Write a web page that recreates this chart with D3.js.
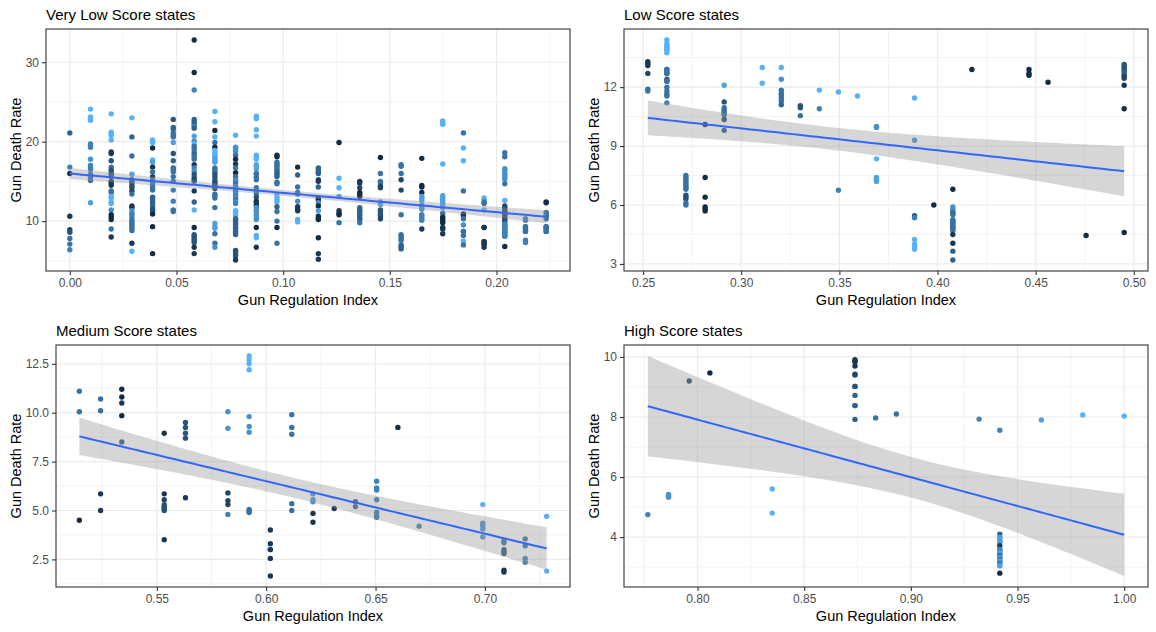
<!DOCTYPE html>
<html><head><meta charset="utf-8">
<script src="https://cdn.jsdelivr.net/npm/d3@7"></script>
<style>body{margin:0;background:#fff} svg{display:block} text{font-family:"Liberation Sans",Arial,sans-serif}</style>
</head><body><svg id="c" width="1156" height="632"></svg>
<script>
// ---- DATA: [regulation index, [[gun death rate, colour shade 0(dark)..9(light)], ...]] ----
// (several years per state overlap, so some entries sit on top of each other)
const veryLowCols = [
 [0.0000,[[21.1,4],[16.8,6],[16.0,0],[10.6,1],[8.9,2],[8.6,3],[7.8,5],[7.1,5],[6.4,6]]],
 [0.0097,[[24.1,9],[23.1,9],[22.9,9],[22.7,9],[19.7,6],[19.6,6],[19.3,6],[17.8,7],[17.0,6],[16.7,6],[16.5,6],[15.9,5],[15.5,5],[15.1,5],[12.3,8]]],
 [0.0194,[[23.5,9],[21.2,9],[21.0,9],[20.8,9],[20.2,9],[18.7,1],[18.5,1],[17.6,3],[16.8,5],[16.4,3],[16.1,3],[15.9,3],[15.6,3],[15.0,1],[14.8,1],[14.5,1],[13.8,5],[13.6,5],[13.1,9],[12.9,9],[12.4,9],[12.2,9],[11.4,7],[10.8,0],[10.5,0],[10.2,0],[9.0,5],[8.0,1]]],
 [0.0291,[[23.0,9],[20.6,4],[18.2,5],[15.9,8],[15.2,3],[15.0,3],[14.7,3],[14.4,3],[14.2,3],[13.8,2],[13.4,5],[11.9,1],[11.7,1],[11.3,7],[11.0,7],[10.8,6],[10.5,6],[10.1,5],[9.8,5],[9.6,5],[9.3,5],[9.1,5],[8.8,5],[7.2,1],[6.2,9]]],
 [0.0388,[[20.2,9],[19.9,9],[19.2,0],[17.7,9],[17.4,8],[16.8,1],[16.2,5],[15.6,2],[15.1,5],[14.9,5],[14.6,5],[14.2,5],[13.9,5],[13.0,4],[12.8,4],[12.5,4],[12.2,4],[11.8,4],[11.5,3],[11.3,3],[10.9,0],[9.3,0],[5.9,0]]],
 [0.0485,[[22.8,3],[21.8,4],[21.6,4],[21.1,5],[20.8,5],[20.6,5],[19.9,8],[18.5,3],[17.6,4],[16.7,4],[16.5,5],[16.2,5],[15.6,5],[15.0,5],[13.9,6],[12.5,6],[11.4,5],[11.2,5]]],
 [0.0583,[[32.8,0],[28.7,0],[26.5,6],[22.8,4],[22.5,4],[22.2,4],[21.9,6],[21.7,4],[20.7,8],[20.1,7],[19.7,9],[19.4,5],[19.1,5],[18.7,5],[18.4,4],[18.1,5],[17.8,5],[17.1,1],[16.7,6],[16.3,7],[15.9,3],[15.5,3],[15.2,2],[15.0,3],[13.8,1],[12.4,4],[11.4,9],[9.2,0],[8.3,3],[8.1,3],[7.8,3],[7.6,3],[7.3,3],[6.7,1],[5.9,1]]],
 [0.0680,[[23.8,9],[22.5,9],[21.4,0],[20.6,9],[19.9,5],[19.3,0],[18.9,9],[18.6,9],[18.4,9],[18.1,9],[17.9,8],[17.6,8],[17.4,8],[16.7,5],[16.5,5],[16.2,5],[15.9,3],[15.5,3],[15.1,3],[14.9,3],[14.6,2],[14.4,2],[14.1,2],[13.4,5],[13.2,5],[12.9,5],[11.7,5],[9.7,8],[9.3,8],[9.1,8],[8.4,5],[7.2,5],[6.7,7]]],
 [0.0777,[[20.8,9],[19.3,7],[19.1,7],[18.8,7],[18.3,5],[17.8,0],[17.2,1],[16.7,5],[16.1,0],[15.6,5],[15.2,6],[15.0,7],[14.7,5],[14.4,7],[14.2,6],[13.9,7],[13.7,5],[13.4,7],[13.2,6],[12.9,7],[12.7,5],[12.4,7],[12.2,6],[11.3,9],[11.1,9],[10.8,9],[10.3,4],[10.1,4],[9.8,4],[9.6,4],[9.3,4],[9.1,4],[8.8,4],[8.6,4],[8.3,4],[6.3,3],[6.1,3],[5.8,3],[5.6,3],[5.1,1]]],
 [0.0874,[[23.2,9],[22.9,9],[21.5,9],[20.7,9],[18.3,9],[18.1,9],[17.8,9],[17.1,8],[16.9,8],[16.6,8],[16.0,5],[15.9,5],[15.5,5],[15.2,5],[14.2,5],[13.9,5],[13.7,5],[13.4,5],[13.0,3],[12.5,1],[12.3,1],[12.0,1],[11.7,7],[11.4,7],[11.2,7],[10.9,7],[10.7,7],[10.4,7],[10.2,7],[9.2,0],[8.2,9],[7.9,9],[6.7,1]]],
 [0.0971,[[18.3,0],[18.1,0],[17.4,5],[17.1,5],[16.9,5],[16.6,5],[16.4,5],[16.1,4],[15.9,4],[15.6,4],[14.9,5],[14.7,5],[13.4,9],[13.0,9],[12.7,9],[12.4,9],[11.8,4],[11.2,5],[10.0,5],[9.2,0],[7.2,5]]],
 [0.1068,[[16.8,0],[15.8,4],[14.3,5],[13.6,5],[13.4,5],[12.5,7],[11.8,1],[11.5,1],[11.3,1],[10.2,9],[9.9,9]]],
 [0.1165,[[16.7,4],[16.5,4],[16.2,4],[16.0,4],[15.2,2],[15.0,1],[14.3,4],[12.9,0],[12.7,0],[12.3,7],[11.9,0],[11.3,8],[10.6,0],[10.3,0],[10.2,0],[7.9,0],[5.9,1],[5.2,1]]],
 [0.1262,[[19.9,0],[15.4,9],[14.2,9],[13.1,8],[11.3,1],[11.0,1],[10.8,0],[9.8,5]]],
 [0.1359,[[15.0,1],[14.8,1],[14.2,2],[13.6,0],[13.4,0],[13.1,0],[11.7,4],[11.4,4],[11.2,4],[10.9,4],[10.7,4],[10.4,4],[10.2,4],[9.8,5]]],
 [0.1456,[[18.0,0],[16.0,5],[15.0,5],[14.8,5],[14.4,2],[14.2,2],[12.4,8],[12.1,8],[11.4,3],[11.2,3],[10.9,3],[10.7,3],[10.3,2]]],
 [0.1553,[[17.1,5],[16.9,5],[16.0,5],[15.2,2],[13.9,2],[10.8,5],[8.3,5],[8.1,5],[7.8,5],[7.6,5],[7.0,4],[6.7,4],[6.5,4]]],
 [0.1650,[[17.9,0],[14.5,0],[14.3,0],[13.6,0],[13.1,8],[12.9,8],[12.6,8],[12.0,7],[11.8,7],[11.5,7],[10.8,6],[10.6,6],[10.3,6],[10.1,6],[9.0,1]]],
 [0.1748,[[22.6,9],[22.3,9],[22.2,9],[17.2,9],[13.2,8],[12.9,8],[12.7,8],[12.4,8],[12.2,8],[11.9,8],[11.7,8],[11.0,5],[10.5,0],[10.3,0],[10.0,0],[9.8,0],[9.2,1],[9.0,1],[8.4,1]]],
 [0.1845,[[21.1,5],[19.2,9],[17.6,9],[13.8,5],[10.9,1],[10.7,1],[10.3,5],[9.5,7],[8.7,5],[8.7,5],[8.2,5],[7.5,9],[7.0,5]]],
 [0.1942,[[12.9,9],[12.7,9],[12.4,5],[12.2,5],[11.4,9],[9.2,1],[9.2,1],[7.4,1],[7.4,1],[7.1,1],[7.1,1],[6.7,1]]],
 [0.2039,[[18.6,5],[18.1,5],[16.6,7],[16.4,7],[16.0,7],[15.8,7],[15.5,7],[15.3,7],[14.7,5],[12.6,9],[11.9,2],[11.7,2],[11.4,2],[11.2,2],[10.9,2],[10.7,2],[10.4,2],[10.2,2],[9.9,3],[9.6,6],[9.6,6],[9.3,6],[9.3,6],[9.1,6],[9.1,6],[8.8,6],[8.8,6],[8.6,6],[8.6,6],[8.3,6],[8.3,6],[8.1,6],[8.1,6],[6.8,0]]],
 [0.2136,[[10.3,6],[10.1,6],[9.3,5],[9.3,5],[9.0,5],[9.0,5],[8.7,5],[8.7,5],[7.6,6],[7.3,6]]],
 [0.2233,[[12.4,0],[12.3,0],[11.1,5],[10.8,5],[10.6,5],[10.3,5],[9.3,5],[9.3,5],[9.0,5],[9.0,5],[8.7,5],[8.7,5]]]
];
const lowCols = [
 [0.2524,[[13.3,1],[13.2,1],[13.1,1],[12.7,2],[11.9,5],[11.8,5]]],
 [0.2621,[[14.4,9],[14.2,9],[14.1,9],[14.0,9],[14.0,9],[13.9,9],[13.9,9],[13.75,9],[12.9,5],[12.9,5],[12.8,5],[12.7,5],[12.7,5],[12.4,3],[12.3,5],[12.3,5],[12.0,5],[11.8,5],[11.65,5],[11.55,5],[11.2,6]]],
 [0.2718,[[7.5,5],[7.4,5],[7.3,5],[7.2,5],[7.1,5],[7.0,5],[6.9,5],[6.8,5],[6.5,3],[6.4,3],[6.3,3],[6.1,5],[6.0,5]]],
 [0.2816,[[10.1,0],[7.4,0],[6.4,0],[5.9,0],[5.8,0],[5.7,0]]],
 [0.2913,[[12.1,8],[11.25,3],[10.95,5],[10.85,5],[10.75,5],[10.7,5],[10.6,5],[10.35,2],[9.8,3]]],
 [0.3107,[[13.0,9],[12.2,9]]],
 [0.3204,[[13.0,9],[12.4,7],[11.85,5],[11.7,5],[11.6,5],[11.45,5],[11.3,5],[11.1,4]]],
 [0.3301,[[11.05,3],[10.95,3],[10.55,5]]],
 [0.3398,[[11.85,9],[10.9,6]]],
 [0.3495,[[11.75,9],[6.75,6]]],
 [0.3592,[[11.55,9]]],
 [0.3689,[[10.0,7],[9.95,7],[8.35,9],[7.4,8],[7.3,8],[7.2,8]]],
 [0.3883,[[11.45,9],[9.3,7],[5.45,3],[5.35,6],[4.25,9],[4.0,9],[3.9,9],[3.75,9]]],
 [0.3981,[[6.0,0]]],
 [0.4078,[[6.8,0],[5.9,7],[5.8,7],[5.65,5],[5.6,5],[5.55,5],[5.5,5],[5.25,5],[5.2,5],[5.15,5],[5.1,5],[5.0,5],[4.95,5],[4.9,5],[4.85,5],[4.8,5],[4.7,5],[4.5,1],[4.05,1],[3.65,4],[3.2,4]]],
 [0.4175,[[12.9,0]]],
 [0.4466,[[12.9,0],[12.7,0],[12.6,0]]],
 [0.4563,[[12.25,0]]],
 [0.4757,[[4.45,0]]],
 [0.4951,[[13.15,3],[13.05,3],[12.95,3],[12.85,3],[12.75,4],[12.65,4],[12.55,2],[12.45,2],[12.1,1],[10.9,0],[4.6,0]]]
];
const mediumCols = [
 [0.5146,[[11.1,5],[10.05,5],[4.5,0]]],
 [0.5243,[[10.7,5],[10.1,5],[5.85,1],[5.0,1]]],
 [0.5340,[[11.2,0],[10.8,0],[10.5,1],[9.85,0],[8.5,3]]],
 [0.5534,[[8.95,1],[5.85,1],[5.55,2],[5.3,3],[5.2,3],[5.1,3],[5.1,3],[5.0,3],[3.5,1]]],
 [0.5631,[[9.5,3],[9.25,3],[8.95,3],[8.7,3],[5.65,1]]],
 [0.5825,[[10.05,7],[9.2,7],[5.9,2],[5.5,2],[5.3,2],[4.8,6]]],
 [0.5922,[[12.9,9],[12.7,9],[12.5,9],[12.2,9],[9.8,7],[9.3,7],[9.0,7],[5.05,5],[4.95,5],[4.9,5]]],
 [0.6019,[[4.0,1],[3.3,1],[3.0,1],[3.0,1],[2.55,1],[1.65,1]]],
 [0.6117,[[9.9,5],[9.25,5],[8.9,5],[5.35,5],[5.0,5]]],
 [0.6214,[[5.85,7],[5.55,7],[5.45,7],[4.85,1],[4.4,1]]],
 [0.6311,[[5.1,1]]],
 [0.6408,[[5.45,4],[5.2,4]]],
 [0.6505,[[6.5,6],[6.15,6],[6.05,6],[5.55,5],[4.9,5],[4.75,5],[4.65,5]]],
 [0.6602,[[9.25,0]]],
 [0.6699,[[4.2,6]]],
 [0.6990,[[5.3,9],[4.35,7],[4.25,7],[4.05,7],[3.65,7]]],
 [0.7087,[[3.45,5],[3.35,5],[3.0,3],[2.9,3],[2.8,3],[1.95,1],[1.85,1]]],
 [0.7184,[[3.55,5],[3.2,5],[2.55,6],[2.35,6]]],
 [0.7282,[[4.7,9],[1.9,9]]]
];
const highCols = [
 [0.7767,[[4.75,6]]],
 [0.7864,[[5.42,7],[5.38,7],[5.33,7]]],
 [0.7961,[[9.2,2]]],
 [0.8058,[[9.47,0]]],
 [0.8350,[[5.6,9],[4.8,9]]],
 [0.8738,[[9.91,1],[9.85,1],[9.85,1],[9.7,1],[9.43,2],[9.4,2],[9.02,3],[9.02,3],[8.72,4],[8.38,4],[8.38,4],[7.92,4]]],
 [0.8835,[[7.97,5]]],
 [0.8932,[[8.1,5]]],
 [0.9320,[[7.93,6]]],
 [0.9417,[[7.56,6],[4.1,4],[3.99,8],[3.99,8],[3.91,8],[3.84,8],[3.84,8],[3.71,1],[3.59,6],[3.59,6],[3.53,7],[3.46,8],[3.46,8],[3.39,5],[3.32,7],[3.32,7],[3.25,6],[3.19,8],[3.19,8],[3.12,5],[3.05,8],[3.05,8],[2.8,0]]],
 [0.9612,[[7.9,8]]],
 [0.9806,[[8.07,9]]],
 [1.0000,[[8.03,9]]]
];
const panelTitles = ["Very Low Score states","Low Score states","Medium Score states","High Score states"];
const xTickVals = [[0,0.05,0.10,0.15,0.20],[0.25,0.30,0.35,0.40,0.45,0.50],[0.55,0.60,0.65,0.70],[0.80,0.85,0.90,0.95,1.00]];
const xMinorVals = [[0.025,0.075,0.125,0.175,0.225],[0.275,0.325,0.375,0.425,0.475],[0.525,0.575,0.625,0.675,0.725],[0.775,0.825,0.875,0.925,0.975]];
const yTickVals = [[10,20,30],[3,6,9,12],[2.5,5.0,7.5,10.0,12.5],[4,6,8,10]];
const yMinorVals = [[5,15,25],[4.5,7.5,10.5,13.5],[1.25,3.75,6.25,8.75,11.25],[3,5,7,9]];
const yTickFormats = ["d","d",".1f","d"];
const xLabel = "Gun Regulation Index", yLabel = "Gun Death Rate";

// ---- LAYOUT ----
const boxes = [[46,29,570,271],[624,29,1148,271],[56,345,570,587],[624,345,1148,587]];
const cellLeft = [0,578,0,578];

const svg = d3.select("#c");
const colour = d3.scaleLinear().domain([0,9]).range(["#132B43","#56B1F7"]).interpolate(d3.interpolateLab);
const FONT = '"Liberation Sans", Arial, sans-serif';

function tq(df){ // 97.5% quantile of Student t (Cornish-Fisher)
  const z=1.959964;
  const g1=(z**3+z)/4, g2=(5*z**5+16*z**3+3*z)/96, g3=(3*z**7+19*z**5+17*z**3-15*z)/384,
        g4=(79*z**9+776*z**7+1482*z**5-1920*z**3-945*z)/92160;
  return z+g1/df+g2/df**2+g3/df**3+g4/df**4;
}

[veryLowCols,lowCols,mediumCols,highCols].forEach((cols,i)=>{
  const pts = cols.flatMap(([x,arr])=>arr.map(([y,s])=>({x,y,s})));
  const [L,T,R,B] = boxes[i];
  const xe = d3.extent(pts,d=>d.x);
  // linear model fit with 95% CI
  const n=pts.length, mx=d3.mean(pts,d=>d.x), my=d3.mean(pts,d=>d.y);
  const sxx=d3.sum(pts,d=>(d.x-mx)**2), sxy=d3.sum(pts,d=>(d.x-mx)*(d.y-my));
  const b=sxy/sxx, a=my-b*mx;
  const s=Math.sqrt(d3.sum(pts,d=>(d.y-a-b*d.x)**2)/(n-2));
  const t=tq(n-2);
  const fit=d3.range(80).map(j=>{const xv=xe[0]+(xe[1]-xe[0])*j/79, yv=a+b*xv, se=s*Math.sqrt(1/n+(xv-mx)**2/sxx);
    return {x:xv,y:yv,lo:yv-t*se,hi:yv+t*se};});
  const ylo=Math.min(d3.min(pts,d=>d.y),d3.min(fit,d=>d.lo)), yhi=Math.max(d3.max(pts,d=>d.y),d3.max(fit,d=>d.hi));
  const xp=(xe[1]-xe[0])*0.05, yp=(yhi-ylo)*0.05;
  const x=d3.scaleLinear().domain([xe[0]-xp,xe[1]+xp]).range([L,R]);
  const y=d3.scaleLinear().domain([ylo-yp,yhi+yp]).range([B,T]);

  const g=svg.append("g");
  g.append("rect").attr("x",L).attr("y",T).attr("width",R-L).attr("height",B-T).attr("fill","#fff");
  // grid
  g.selectAll(".vmin").data(xMinorVals[i]).join("line").attr("x1",d=>x(d)).attr("x2",d=>x(d)).attr("y1",T).attr("y2",B).attr("stroke","#EBEBEB").attr("stroke-width",0.6);
  g.selectAll(".hmin").data(yMinorVals[i]).join("line").attr("y1",d=>y(d)).attr("y2",d=>y(d)).attr("x1",L).attr("x2",R).attr("stroke","#EBEBEB").attr("stroke-width",0.6);
  g.selectAll(".vmaj").data(xTickVals[i]).join("line").attr("x1",d=>x(d)).attr("x2",d=>x(d)).attr("y1",T).attr("y2",B).attr("stroke","#EBEBEB").attr("stroke-width",1.2);
  g.selectAll(".hmaj").data(yTickVals[i]).join("line").attr("y1",d=>y(d)).attr("y2",d=>y(d)).attr("x1",L).attr("x2",R).attr("stroke","#EBEBEB").attr("stroke-width",1.2);
  // points
  g.append("g").selectAll("circle").data(pts).join("circle")
    .attr("cx",d=>x(d.x)).attr("cy",d=>y(d.y)).attr("r",2.7).attr("fill",d=>colour(d.s));
  // ribbon + line
  g.append("path").datum(fit).attr("d",d3.area().x(d=>x(d.x)).y0(d=>y(d.lo)).y1(d=>y(d.hi)))
    .attr("fill","#999999").attr("fill-opacity",0.4);
  g.append("path").datum(fit).attr("d",d3.line().x(d=>x(d.x)).y(d=>y(d.y)))
    .attr("fill","none").attr("stroke","#3366FF").attr("stroke-width",2);
  // border
  g.append("rect").attr("x",L).attr("y",T).attr("width",R-L).attr("height",B-T).attr("fill","none").attr("stroke","#333333").attr("stroke-width",1.1);
  // axes
  const ax=g.append("g").attr("transform",`translate(0,${B})`)
    .call(d3.axisBottom(x).tickValues(xTickVals[i]).tickFormat(d3.format(".2f")).tickSize(4).tickPadding(3));
  const ay=g.append("g").attr("transform",`translate(${L},0)`)
    .call(d3.axisLeft(y).tickValues(yTickVals[i]).tickFormat(d3.format(yTickFormats[i])).tickSize(4).tickPadding(3));
  [ax,ay].forEach(a=>{a.select(".domain").remove();
    a.selectAll(".tick line").attr("stroke","#333333").attr("stroke-width",1.1);
    a.selectAll(".tick text").attr("fill","#4D4D4D").attr("font-size",12).attr("font-family",FONT);});
  // titles
  g.append("text").attr("x",L).attr("y",T-9).attr("font-size",15).attr("font-family",FONT).attr("fill","#000").text(panelTitles[i]);
  g.append("text").attr("x",(L+R)/2).attr("y",B+34).attr("text-anchor","middle").attr("font-size",14.5).attr("font-family",FONT).attr("fill","#000").text(xLabel);
  g.append("text").attr("transform",`translate(${cellLeft[i]+21},${(T+B)/2}) rotate(-90)`).attr("text-anchor","middle").attr("font-size",14.5).attr("font-family",FONT).attr("fill","#000").text(yLabel);
});
</script></body></html>
